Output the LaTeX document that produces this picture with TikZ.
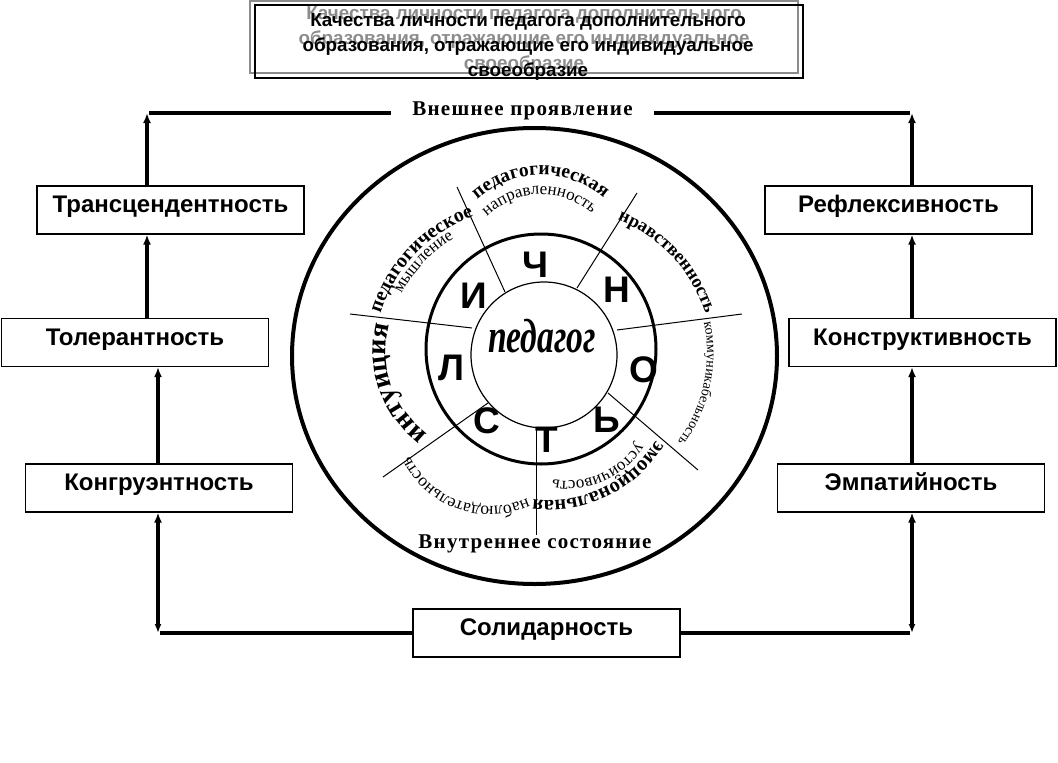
\documentclass[tikz,border=0pt]{standalone}
\usepackage{fontspec}
\setmainfont{Liberation Serif}
\newfontfamily\arialfont{Liberation Sans}
\usetikzlibrary{arrows.meta, decorations.text, positioning}

\newcommand{\fsz}[1]{\fontsize{#1}{#1}\selectfont}
% слово по дуге: центр, радиус, средний угол, кегль, начертание, текст
\newcommand{\arcword}[6]{%
  \path[decorate, decoration={text along path, text align=center,
      text={|\fsz{#4}#5|#6}}]
    (#1) ++({#3+70}:#2) arc[start angle={#3+70}, end angle={#3-70}, radius=#2];}

\tikzset{
  box/.style={draw, line width=1.2pt, minimum width=267pt, minimum height=48pt,
    inner sep=0pt, font=\arialfont\bfseries\fsz{24}, text height=17pt, text depth=12pt},
  frame/.style={line width=4.5pt},
  uparrow/.style={-{Latex[length=10pt,width=8pt]}},
  botharrow/.style={{Latex[length=9pt,width=7pt]}-{Latex[length=10pt,width=8pt]}},
  letter/.style={font=\arialfont\bfseries\fsz{37}, inner sep=0pt},
  radial/.style={line width=1pt},
  titletext/.style={font=\arialfont\bfseries\fontsize{18.8}{25}\selectfont, align=center}
}

\begin{document}
\begin{tikzpicture}[x=1pt, y=1pt]
    \useasboundingbox (0,0) rectangle (1058,-763);

    % 1. Заголовок
    \draw[black!45, line width=1.5pt] (250,-1) rectangle (798,-73);
    \node[titletext, text=black!45] (titleshadow) at (524,-40)
        {Качества личности педагога дополнительного\\
        образования, отражающие его индивидуальное\\своеобразие};
    \node[titletext] (title) at (528,-46.5)
        {Качества личности педагога дополнительного\\
        образования, отражающие его индивидуальное\\своеобразие};
    \draw[line width=1.5pt] (255,-5) rectangle (803,-78);

    % 2. Круги
    \draw[line width=4pt] (534.5,-356) ellipse[x radius=242.5, y radius=228];
    \draw[line width=3pt] (541,-349) circle[radius=115];
    \draw[line width=1.2pt] (544,-355) circle[radius=73];
    \foreach \a/\b in {{505,-292}/{457,-187}, {577,-288}/{637,-193},
        {617,-330}/{742,-314}, {472,-328}/{350,-314}, {488,-403}/{383,-477},
        {536,-428}/{536,-535}, {608,-393}/{698,-470}}
        \draw[radial] (\a) -- (\b);

    % 3. Буквы и центр
    \node[letter] (lCh) at (535,-265) {Ч};
    \node[letter] (lI) at (474,-296) {И};
    \node[letter] (lN) at (617,-290) {Н};
    \node[letter] (lL) at (451,-368) {Л};
    \node[letter] (lO) at (644,-370) {О};
    \node[letter] (lS) at (487,-421) {С};
    \node[letter] (lT) at (547,-440) {Т};
    \node[letter] (lSoft) at (607,-420) {Ь};
    \node[anchor=base, inner sep=0pt] (ped) at (542,-352)
        {\scalebox{0.7}[1]{\bfseries\itshape\fsz{48}педагог}};

    % 4. Слова по кольцу
    \arcword{525.5,-359}{152}{136.25}{20}{\bfseries}{педагогическое}
    \arcword{525.5,-359}{140}{136.5}{17}{}{мышление}
    \arcword{541,-271}{96}{90.35}{19.5}{\bfseries}{педагогическая}
    \arcword{541,-272}{77.5}{91.5}{17}{}{направленность}
    \arcword{564,-358}{148}{43}{18.5}{\bfseries}{нравственность}
    \arcword{557,-353}{150}{-12.3}{14}{}{коммуникабельность}
    \arcword{549,-375.5}{125}{-64.3}{20.5}{\bfseries}{эмоциональная}
    \arcword{568,-399}{82}{-66.5}{17}{}{устойчивость}
    \arcword{490,-417}{89.5}{-109.65}{17.5}{}{наблюдательность}
    \arcword{491,-351}{105}{198.95}{28}{\bfseries}{интуиция}

    \node[anchor=base, inner xsep=21pt, font=\bfseries\fsz{21}\addfontfeature{LetterSpace=6}]
        (outer) at (522.5,-115) {Внешнее проявление};
    \node[anchor=base, font=\bfseries\fsz{21}\addfontfeature{LetterSpace=6}]
        (inner) at (535,-548.5) {Внутреннее состояние};

    % 5. Качества в рамках
    \node[box] (trans) at (170.5,-210) {Трансцендентность};
    \node[box] (tol) at (135,-342.5) {Толерантность};
    \node[box] (kongr) at (159,-488) {Конгруэнтность};
    \node[box] (refl) at (898.5,-210) {Рефлексивность};
    \node[box] (konstr) at (922.5,-342.5) {Конструктивность};
    \node[box] (emp) at (911,-488) {Эмпатийность};
    \node[box] (sol) at (546.5,-633) {Солидарность};

    % 6. Рамка со стрелками
    \coordinate (cTL) at (147,-113);
    \coordinate (cTR) at (912,-113);
    \coordinate (cBL) at (158,-633);
    \coordinate (cBR) at (912,-633);
    \draw[frame] ([xshift=2pt]cTL) -- (outer.west |- cTL);
    \draw[frame] (outer.east |- cTR) -- ([xshift=-2pt]cTR);
    \draw[frame] ([xshift=2pt]cBL) -- (sol.west |- cBL);
    \draw[frame] (sol.east |- cBR) -- ([xshift=-2pt]cBR);

    \draw[frame, uparrow] (trans.north -| cTL) -- (cTL);
    \draw[frame, uparrow] (tol.north -| cTL) -- (trans.south -| cTL);
    \draw[frame, uparrow] (kongr.north -| cBL) -- (tol.south -| cBL);
    \draw[frame, botharrow] (cBL) -- (kongr.south -| cBL);

    \draw[frame, uparrow] (refl.north -| cTR) -- (cTR);
    \draw[frame, uparrow] (konstr.north -| cTR) -- (refl.south -| cTR);
    \draw[frame, uparrow] (emp.north -| cTR) -- (konstr.south -| cTR);
    \draw[frame, botharrow] (cBR) -- (emp.south -| cTR);
\end{tikzpicture}
\end{document}
